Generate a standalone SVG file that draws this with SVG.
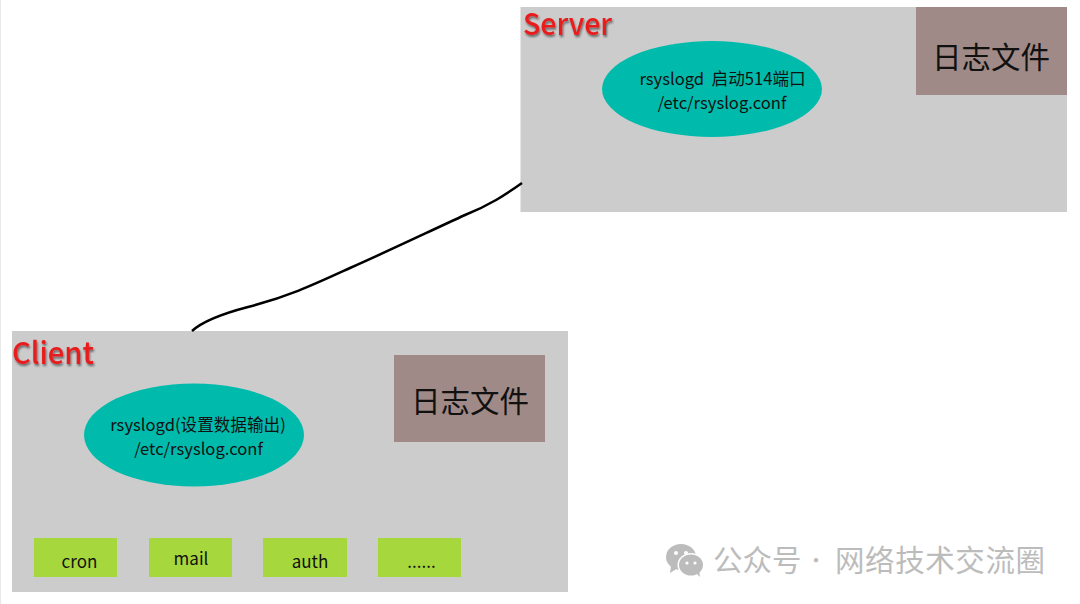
<svg xmlns="http://www.w3.org/2000/svg" width="1080" height="604" viewBox="0 0 1080 604">
<defs>
<filter id="sh" x="-20%" y="-20%" width="140%" height="150%"><feDropShadow dx="1" dy="2" stdDeviation="1.200" flood-color="#000" flood-opacity="0.5"/></filter>
</defs>
<style>
text{font-family:"Noto Sans CJK SC","Noto Sans",sans-serif;fill:#111}
.box{fill:#cccccc}
.log{fill:#a08a87}
.ell{fill:#00bbac}
.leaf{fill:#a6d73c}
.t{font-size:16.600px;text-anchor:middle}
.lt{font-size:29.500px;text-anchor:middle}
.s{font-size:17px;text-anchor:middle}
.h{font-size:30px;font-weight:500;fill:#e81c1c;filter:url(#sh)}
.w{font-size:29.500px;fill:#bcbcbc}
</style>
<rect width="1080" height="604" fill="#fff"/>
<rect x="0" y="0" width="1" height="604" fill="#e8e8e8"/>
<g id="server">
<rect class="box" x="520.500" y="7" width="546.500" height="205"/>
<text class="h" x="523" y="35" textLength="89" lengthAdjust="spacingAndGlyphs">Server</text>
<ellipse class="ell" cx="712" cy="89" rx="110" ry="48"/>
<text class="t" x="722.500" y="84.500">rsyslogd&#160;&#160;启动514端口</text>
<text class="t" x="722" y="108.500">/etc/rsyslog.conf</text>
</g>
<g id="server-log">
<rect class="log" x="916" y="7" width="151" height="88"/>
<text class="lt" x="991" y="68">日志文件</text>
</g>
<g id="client">
<rect class="box" x="12" y="331" width="556" height="261"/>
<text class="h" x="12" y="364" textLength="82" lengthAdjust="spacingAndGlyphs">Client</text>
<ellipse class="ell" cx="194" cy="435" rx="110" ry="51.500"/>
<text class="t" x="198" y="431">rsyslogd(设置数据输出)</text>
<text class="t" x="198.500" y="454.500">/etc/rsyslog.conf</text>
</g>
<g id="client-log">
<rect class="log" x="394" y="355" width="151" height="87"/>
<text class="lt" x="470" y="412">日志文件</text>
</g>
<g id="cron"><rect class="leaf" x="34" y="538" width="83" height="39"/><text class="s" x="79.500" y="568">cron</text></g>
<g id="mail"><rect class="leaf" x="149" y="538" width="83" height="39"/><text class="s" x="191" y="565">mail</text></g>
<g id="auth"><rect class="leaf" x="263" y="538" width="84" height="39"/><text class="s" x="310" y="568">auth</text></g>
<g id="more"><rect class="leaf" x="378" y="538" width="83" height="39"/><text class="s" x="421.500" y="568">......</text></g>
<g id="connectors">
<path d="M192 331C204 320 225 313 248 307C290 296 315 284 350 268C395 248 430 231 465 215C490 205 505 195 522 183" fill="none" stroke="#000" stroke-width="2.500"/>
</g>
<g id="watermark">
<g fill="#bcbcbc">
<ellipse cx="681" cy="557" rx="15" ry="13"/>
<path d="M671 566l-1 7 8-5z"/>
</g>
<ellipse cx="691" cy="565" rx="13.500" ry="12" fill="#fff"/>
<g fill="#bcbcbc">
<ellipse cx="691" cy="565" rx="12" ry="10.500"/>
<path d="M696 573l4 4-1-7z"/>
</g>
<g fill="#fff"><circle cx="676" cy="553" r="2"/><circle cx="686" cy="553" r="2"/><circle cx="687" cy="563" r="1.600"/><circle cx="695" cy="563" r="1.600"/></g>
<text class="w" x="713" y="571">公众号</text>
<text class="w" x="816" y="568" text-anchor="middle" style="font-size:20px">·</text>
<text class="w" x="835" y="571" textLength="210">网络技术交流圈</text>
</g>
</svg>
